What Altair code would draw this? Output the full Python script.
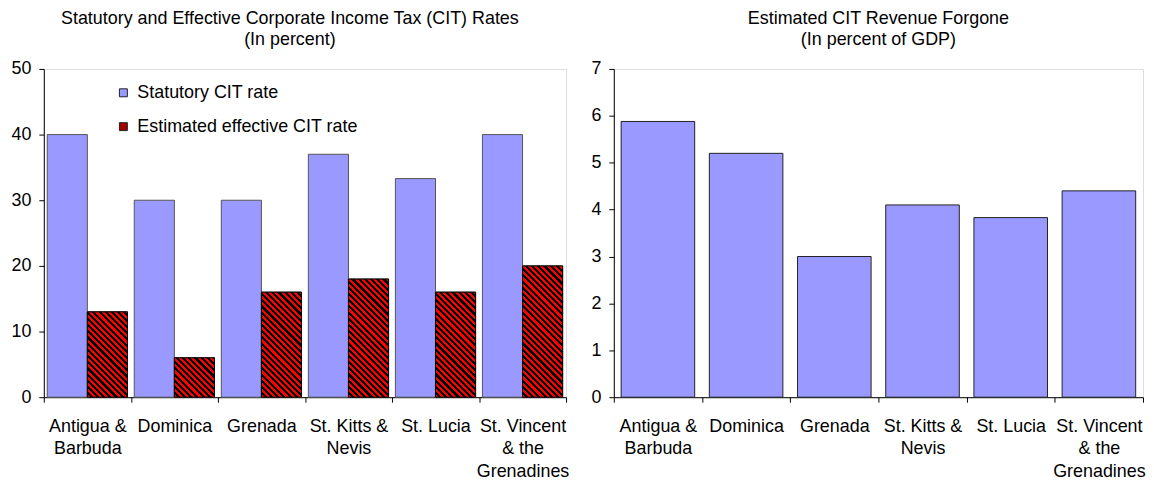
import math
import altair as alt
import pandas as pd

countries = ["Antigua & Barbuda", "Dominica", "Grenada", "St. Kitts & Nevis",
             "St. Lucia", "St. Vincent & the Grenadines"]
label_lines = [["Antigua &", "Barbuda"], ["Dominica"], ["Grenada"],
               ["St. Kitts &", "Nevis"], ["St. Lucia"],
               ["St. Vincent", "& the", "Grenadines"]]
series = ["Statutory CIT rate", "Estimated effective CIT rate"]
statutory = [40, 30, 30, 37, 33.3, 40]
effective = [13, 6, 16, 18, 16, 20]
forgone = [5.88, 5.2, 3.0, 4.1, 3.83, 4.4]

FONT = "Liberation Sans"
FS = 18
BLUE = "#9999FF"

L_W, R_W, H = 525, 532, 330
L_MAX, R_MAX = 50, 7
SUB_PAD = 0.085

left_df = pd.DataFrame(
    [{"country": c, "series": series[0], "value": v} for c, v in zip(countries, statutory)]
    + [{"country": c, "series": series[1], "value": v} for c, v in zip(countries, effective)]
)
right_df = pd.DataFrame({"country": countries, "value": forgone})


def label_expr():
    parts = []
    for c, lines in zip(countries, label_lines):
        arr = "[" + ",".join("'" + s + "'" for s in lines) + "]"
        parts.append(f"datum.label == '{c}' ? {arr} : ")
    return "".join(parts) + "datum.label"


def hatch(w, h, period=4.4, red_frac=0.5):
    s = (w + h) / (w * w + h * h)
    x2, y2 = s * w, 1 - s * h
    n = (w + h) / math.sqrt(2) / period
    stops = []
    k = 0
    while k / n < 1:
        a = k / n
        b = min((k + red_frac) / n, 1)
        c = min((k + 1) / n, 1)
        stops += [alt.GradientStop(offset=a, color="#FF0000"),
                  alt.GradientStop(offset=b, color="#FF0000"),
                  alt.GradientStop(offset=b, color="#000000"),
                  alt.GradientStop(offset=c, color="#000000")]
        k += 1
    return alt.LinearGradient(gradient="linear", stops=stops, x1=0, y1=1, x2=x2, y2=y2)


x_axis = alt.Axis(title=None, labelAngle=0, tickBand="extent", labelExpr=label_expr(),
                  labelOverlap=False, labelLineHeight=23, labelPadding=15,
                  labelBaseline="top", tickSize=5, labelFontSize=FS, labelFont=FONT,
                  labelColor="black", domainColor="black", tickColor="black")


def y_axis(vals):
    return alt.Axis(title=None, values=vals, grid=False, tickSize=5, labelPadding=8,
                    labelFontSize=FS, labelFont=FONT, labelColor="black",
                    domainColor="black", tickColor="black")


x_left = alt.X("country:N", sort=countries, scale=alt.Scale(paddingInner=0, paddingOuter=0),
               axis=x_axis)
xoff = alt.XOffset("series:N", sort=series,
                   scale=alt.Scale(domain=series, paddingInner=0, paddingOuter=SUB_PAD))
y_left = alt.Y("value:Q", scale=alt.Scale(domain=[0, L_MAX]), axis=y_axis(list(range(0, 51, 10))))

base_left = alt.Chart(left_df).mark_bar(stroke="#555555", strokeWidth=1).encode(
    x=x_left, xOffset=xoff, y=y_left,
    color=alt.Color("series:N", sort=series,
                    scale=alt.Scale(domain=series, range=[BLUE, "#A00000"]),
                    legend=alt.Legend(title=None, orient="none", legendX=71, legendY=15,
                                      symbolType="square", symbolSize=64,
                                      symbolStrokeColor="#222222", symbolStrokeWidth=1,
                                      labelFontSize=FS, labelFont=FONT, labelColor="black",
                                      labelOffset=5, labelLimit=0, rowPadding=16, padding=0)),
)

sub_w = (L_W / len(countries)) / (2 + 2 * SUB_PAD)
overlays = []
for c, v in zip(countries, effective):
    g = hatch(sub_w, v / L_MAX * H)
    overlays.append(
        alt.Chart(left_df).transform_filter(
            (alt.datum.country == c) & (alt.datum.series == series[1])
        ).mark_bar(fill=g, stroke="black", strokeWidth=1).encode(
            x=alt.X("country:N", sort=countries),
            xOffset=alt.XOffset("series:N", sort=series),
            y=alt.Y("value:Q"),
        )
    )

left = alt.layer(base_left, *overlays).properties(
    width=L_W, height=H,
    title=alt.TitleParams(text=["Statutory and Effective Corporate Income Tax (CIT) Rates",
                                "(In percent)"],
                          font=FONT, fontSize=FS, fontWeight="normal", color="black",
                          lineHeight=21, offset=11, anchor="middle", frame="bounds"),
)

right = alt.Chart(right_df).mark_bar(fill=BLUE, stroke="#222222", strokeWidth=1,
                                     width=alt.RelativeBandSize(0.834)).encode(
    x=alt.X("country:N", sort=countries, scale=alt.Scale(paddingInner=0, paddingOuter=0),
            axis=x_axis),
    y=alt.Y("value:Q", scale=alt.Scale(domain=[0, R_MAX]), axis=y_axis(list(range(0, 8)))),
).properties(
    width=R_W, height=H,
    title=alt.TitleParams(text=["Estimated CIT Revenue Forgone", "(In percent of GDP)"],
                          font=FONT, fontSize=FS, fontWeight="normal", color="black",
                          lineHeight=21, offset=11, anchor="middle", frame="group"),
)

chart = alt.hconcat(left, right, spacing=20).properties(
    padding={"left": 2, "top": 0, "right": 0, "bottom": 0}
).configure_view(stroke="black", strokeWidth=1).configure(font=FONT, background="white")

chart.save("out.html", embed_options={"renderer": "svg", "actions": False})
